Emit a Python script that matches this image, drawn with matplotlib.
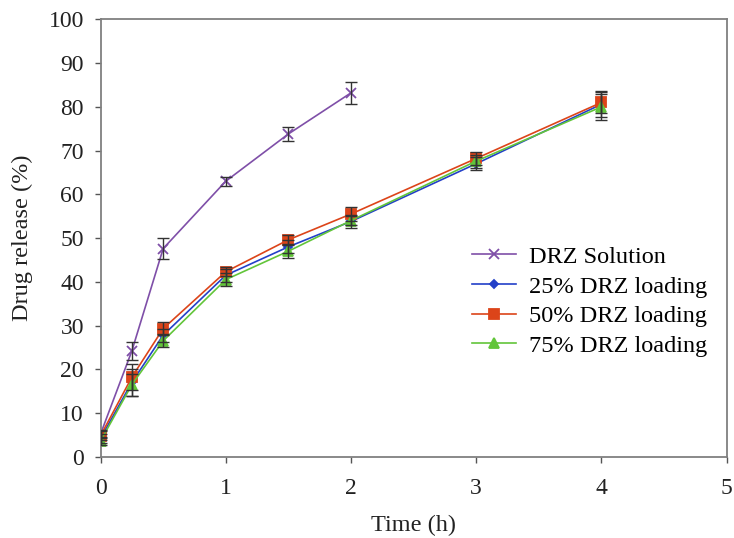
import matplotlib
matplotlib.use("Agg")
import matplotlib.pyplot as plt

plt.rcParams["font.family"] = ["Liberation Serif", "DejaVu Serif"]

# release data
t_sol = [0, 0.25, 0.5, 1, 1.5, 2]
sol = [5.2, 24.2, 47.6, 63.0, 73.8, 83.2]
sol_err = [1.0, 2.0, 2.5, 1.0, 1.5, 2.5]

t_np = [0, 0.25, 0.5, 1, 1.5, 2, 3, 4]
load25 = [4.2, 17.0, 27.8, 41.5, 48.0, 53.8, 67.0, 80.6]
load25_err = [1.0, 3.0, 1.5, 1.5, 1.5, 1.5, 1.5, 3.0]
load50 = [4.8, 18.2, 29.3, 42.3, 49.6, 55.5, 68.2, 81.0]
load50_err = [1.0, 3.0, 1.5, 1.0, 1.0, 1.5, 1.5, 2.5]
load75 = [3.6, 16.5, 26.5, 40.5, 47.0, 54.0, 67.6, 80.0]
load75_err = [1.0, 2.5, 1.5, 1.5, 1.5, 1.0, 1.5, 3.0]

fig = plt.figure(figsize=(7.34, 5.38), dpi=100)
ax = fig.add_axes([0.137, 0.151, 0.853, 0.813])

series = [
    (t_sol, sol, sol_err, "#7f4fa8", "x", 7.5, "DRZ Solution"),
    (t_np, load25, load25_err, "#2340c8", "D", 4.5, "25% DRZ loading"),
    (t_np, load50, load50_err, "#dc4419", "s", 6.5, "50% DRZ loading"),
    (t_np, load75, load75_err, "#62c53a", "^", 7, "75% DRZ loading"),
]
for t, y, e, c, m, ms, lab in series:
    ax.plot(t, y, color=c, marker=m, ms=ms, mew=1.3, lw=1.2, label=lab)
for t, y, e, c, m, ms, lab in series:
    ax.errorbar(t, y, yerr=e, fmt="none", ecolor="#333333", elinewidth=1.0,
                capsize=4.5, capthick=1.0, zorder=3)

ax.set_xlim(0, 5)
ax.set_ylim(0, 100)
ax.set_xticks(range(0, 6))
ax.set_yticks(range(0, 101, 10))
ax.tick_params(direction="out", length=4, width=1, color="#555555",
               labelsize=17, labelcolor="#222222")
ax.tick_params(axis="x", pad=11)
ax.tick_params(axis="y", pad=8)
for s in ax.spines.values():
    s.set_color("#808080")
    s.set_linewidth(1.3)
ax.set_xlabel("Time (h)", fontsize=17.5, color="#222222", labelpad=12)
ax.set_ylabel("Drug release (%)", fontsize=17.5, color="#222222", labelpad=11)

ax.legend(loc="upper left", bbox_to_anchor=(0.593, 0.482), frameon=False,
          borderpad=0, borderaxespad=0, fontsize=17.5, handlelength=1.8,
          handletextpad=0.55, labelspacing=0.31)

fig.savefig("out.png", dpi=100)
